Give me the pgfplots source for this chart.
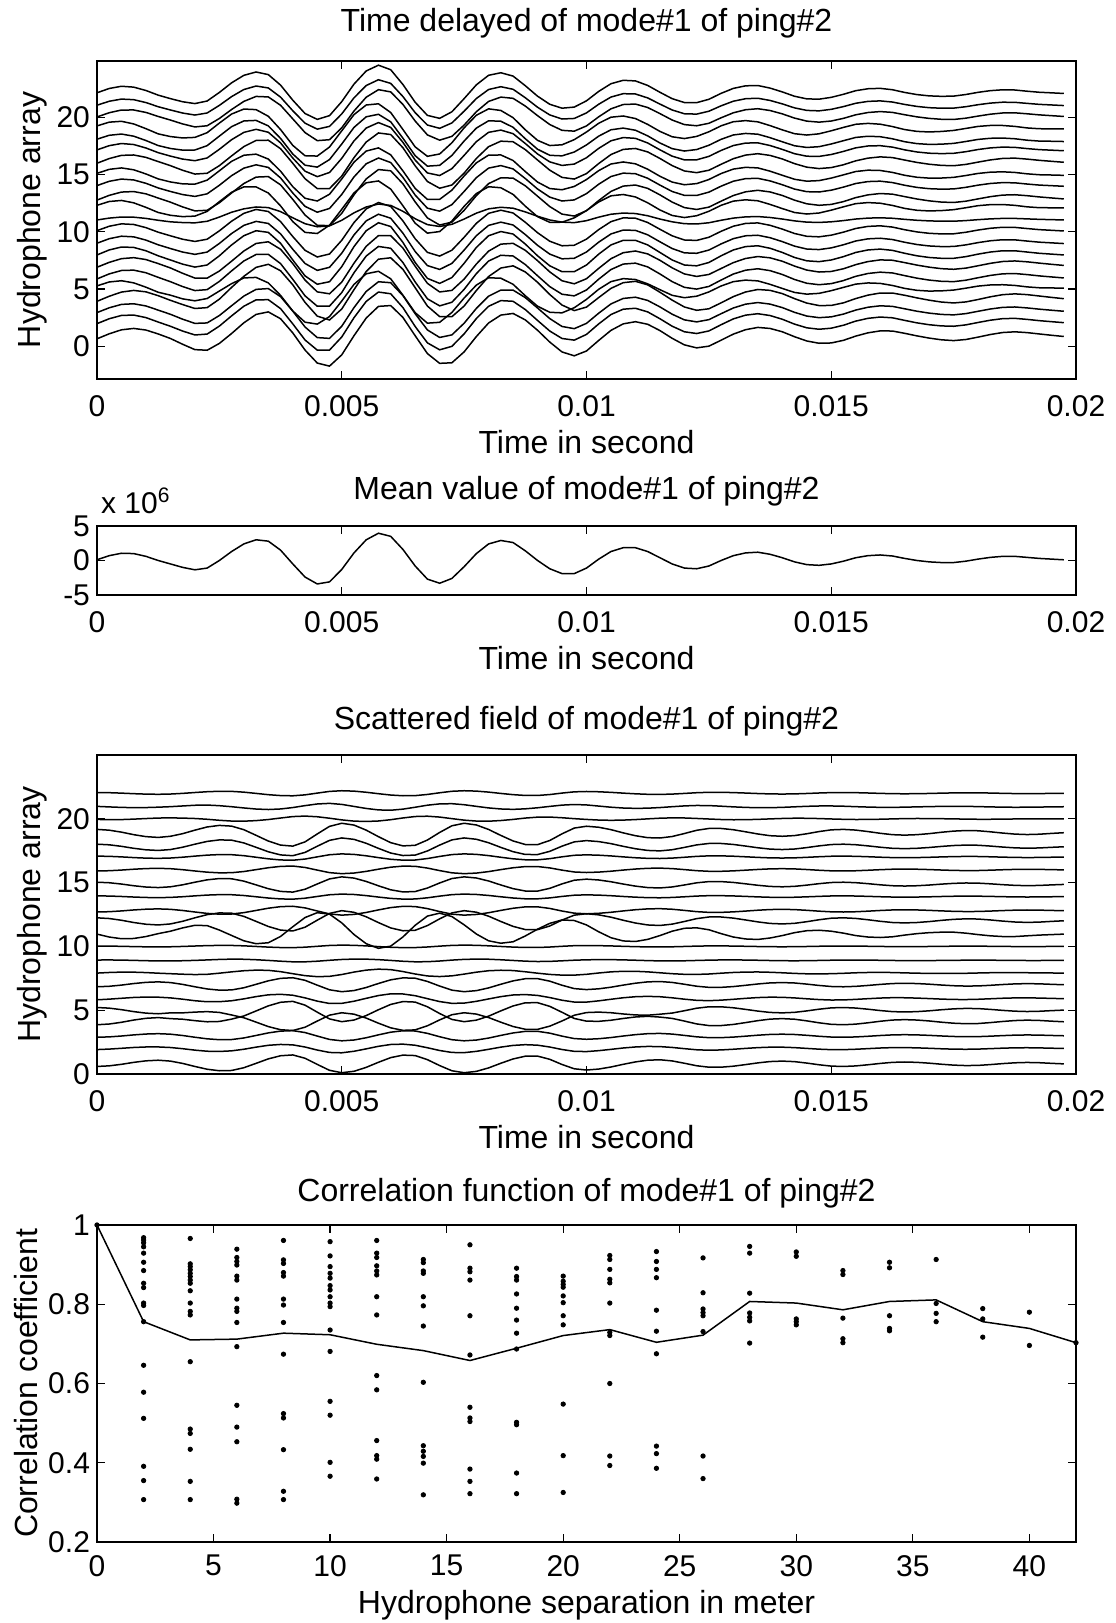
\documentclass[border=0pt]{standalone}
\usepackage{fontspec}
\setmainfont{Liberation Sans}
\usepackage{pgfplots}
\usepackage{pgfplotstable}
\pgfplotsset{compat=1.18}

% t in ms; m = mean of mode (x 10^6); g = residual (time-shift) shape; d = slow drift shape
\pgfplotstableread{
t m g d
0.00 0.10 0.30 0
0.25 0.70 0.23 0
0.50 1.05 0.06 0
0.75 1.00 -0.16 0
1.00 0.60 -0.33 0
1.25 0.00 -0.40 0
1.50 -0.50 -0.30 0
1.75 -1.00 -0.04 0.2
2.00 -1.35 0.30 0.4
2.25 -1.10 0.61 0.6
2.50 0.00 0.78 0.8
2.75 1.30 0.75 1
3.00 2.40 0.44 1
3.25 3.00 -0.05 1
3.50 2.80 -0.55 1
3.75 1.50 -0.90 1
4.00 -0.50 -0.99 1
4.25 -2.40 -0.62 1
4.50 -3.40 0.07 1
4.75 -3.10 0.73 1
5.00 -1.30 1.00 1
5.25 1.10 0.84 1
5.50 3.00 0.40 1
5.75 3.95 -0.17 1
6.00 3.50 -0.69 1
6.25 1.60 -0.97 1
6.50 -0.80 -0.92 1
6.75 -2.70 -0.46 1
7.00 -3.30 0.20 1
7.25 -2.60 0.78 1
7.50 -0.90 1.00 1
7.75 1.00 0.85 1
8.00 2.40 0.46 1
8.25 2.90 -0.06 1
8.50 2.60 -0.54 1
8.75 1.40 -0.85 1
9.00 0.00 -0.86 1
9.25 -1.20 -0.50 1
9.50 -1.90 0.08 1
9.75 -1.90 0.56 0.875
10.00 -1.10 0.70 0.75
10.25 0.20 0.59 0.625
10.50 1.30 0.36 0.5
10.75 1.85 0.06 0.375
11.00 1.85 -0.21 0.25
11.25 1.30 -0.40 0.125
11.50 0.40 -0.45 0
11.75 -0.50 -0.32 0
12.00 -1.10 -0.06 0
12.25 -1.20 0.22 0
12.50 -0.80 0.38 0
12.75 0.00 0.38 0
13.00 0.70 0.27 0
13.25 1.10 0.09 0
13.50 1.20 -0.10 0
13.75 0.90 -0.25 0
14.00 0.40 -0.30 0
14.25 -0.20 -0.24 0
14.50 -0.60 -0.08 0
14.75 -0.70 0.11 0
15.00 -0.50 0.26 0
15.25 -0.10 0.30 0
15.50 0.40 0.24 0
15.75 0.70 0.11 0
16.00 0.80 -0.04 0
16.25 0.65 -0.16 0
16.50 0.30 -0.20 0
16.75 0.00 -0.16 0
17.00 -0.20 -0.07 0
17.25 -0.30 0.05 0
17.50 -0.30 0.15 0
17.75 -0.10 0.20 0
18.00 0.20 0.18 0
18.25 0.45 0.09 0
18.50 0.60 -0.02 0
18.75 0.60 -0.11 0
19.00 0.45 -0.15 0
19.25 0.30 -0.12 0
19.50 0.20 -0.05 0
19.75 0.10 0.01 0
}\wave

% #1 hydrophone, #2 offset, #3 time-shift residual, #4 amplitude residual, #5 drift, #6 mean weight
\newcommand{\trace}[6]{%
  \addplot[black, line width=0.75pt] table[x=t, y expr={#1+(#2)+(#3)*\thisrow{g}+((#4)+(#6))*\thisrow{m}+(#5)*\thisrow{d}}] {\wave};}
\newcommand{\alltraces}[1]{%
  \trace{1}{-0.2}{-0.7}{0}{0}{#1}
  \trace{2}{0}{-0.3}{0.03}{0}{#1}
  \trace{3}{0}{-0.4}{0}{0}{#1}
  \trace{4}{0.1}{-0.8}{0}{0.8}{#1}
  \trace{5}{0}{0.7}{0}{-0.9}{#1}
  \trace{6}{-0.1}{-0.3}{0.05}{0}{#1}
  \trace{7}{0}{-0.55}{0}{0}{#1}
  \trace{8}{-0.1}{0}{0.08}{0}{#1}
  \trace{9}{-0.1}{0.1}{0.02}{0}{#1}
  \trace{10}{0}{0.1}{0}{0}{#1}
  \trace{11}{0}{0}{-0.38}{0.35}{#1}
  \trace{12}{0}{0.8}{0}{0}{#1}
  \trace{13}{-0.2}{-0.35}{0}{0}{#1}
  \trace{14}{-0.1}{0.2}{0}{0}{#1}
  \trace{15}{-0.15}{0.6}{0}{0}{#1}
  \trace{16}{0}{-0.3}{0}{0}{#1}
  \trace{17}{0}{0.25}{0}{0}{#1}
  \trace{18}{-0.2}{0.7}{0}{0}{#1}
  \trace{19}{-0.1}{0.9}{0}{-0.15}{#1}
  \trace{20}{0}{-0.15}{-0.05}{0}{#1}
  \trace{21}{-0.05}{0.1}{-0.06}{0}{#1}
  \trace{22}{0}{0.2}{0}{0}{#1}
}

\pgfplotsset{
  panel/.style={
    scale only axis, width=489.5pt,
    axis line style={line width=0.6pt},
    tick align=inside, major tick length=4pt,
    tick style={line width=0.6pt, black},
    tick label style={font=\fontsize{15}{18}\selectfont},
    label style={font=\fontsize{16}{19}\selectfont},
    title style={font=\fontsize{16}{19}\selectfont, at={(0.5,1)}, anchor=center},
    xticklabel style={yshift=-4.5pt},
    xlabel style={at={(axis description cs:0.5,0)}, anchor=center, yshift=-31.5pt},
  },
  timeaxis/.style={
    xmin=0, xmax=20,
    xtick={0,5,10,15,20},
    xticklabels={0,0.005,0.01,0.015,0.02},
    xlabel={Time in second},
  },
}

\begin{document}
\begin{tikzpicture}
\useasboundingbox (0,0) rectangle (557.5pt,811.5pt);

% Panel 1
\begin{axis}[panel, timeaxis, at={(48.5pt,622pt)}, anchor=south west, height=159pt,
  ymin=-2.85, ymax=24.9,
  ytick={0,5,10,15,20}, yticklabels={0,5,10,15,20},
  ylabel={Hydrophone array},
  ylabel style={at={(axis description cs:-0.0664,0.5)}, anchor=center},
  title={Time delayed of mode\#1 of ping\#2},
  title style={yshift=13pt}]
\alltraces{0.65}
\end{axis}

% Panel 2
\begin{axis}[panel, timeaxis, at={(48.5pt,514pt)}, anchor=south west, height=34.5pt,
  ymin=-5, ymax=5,
  ytick={-5,0,5}, yticklabels={-5,0,5},
  title={Mean value of mode\#1 of ping\#2},
  title style={yshift=11.5pt}]
\addplot[black, line width=0.75pt] table[x=t, y=m] {\wave};
\end{axis}
\node[anchor=west, font=\fontsize{15}{18}\selectfont] at (47pt,561pt) {x 10\textsuperscript{6}};

% Panel 3
\begin{axis}[panel, timeaxis, at={(48.5pt,274.5pt)}, anchor=south west, height=159.5pt,
  ymin=0, ymax=25,
  ytick={0,5,10,15,20}, yticklabels={0,5,10,15,20},
  ylabel={Hydrophone array},
  ylabel style={at={(axis description cs:-0.0664,0.5)}, anchor=center},
  title={Scattered field of mode\#1 of ping\#2},
  title style={yshift=11pt}]
\alltraces{0}
\end{axis}

% Panel 4
\begin{axis}[panel, at={(48.5pt,40.5pt)}, anchor=south west, height=158.5pt,
  xmin=0, xmax=42, ymin=0.2, ymax=1, clip=false,
  xtick={0,5,10,15,20,25,30,35,40}, xticklabels={0,5,10,15,20,25,30,35,40},
  ytick={0.2,0.4,0.6,0.8,1}, yticklabels={0.2,0.4,0.6,0.8,1},
  xticklabel style={yshift=1.5pt},
  xlabel={Hydrophone separation in meter},
  ylabel={Correlation coefficient},
  ylabel style={at={(axis description cs:-0.0725,0.5)}, anchor=center},
  title={Correlation function of mode\#1 of ping\#2},
  title style={yshift=10pt}]
\addplot[only marks, mark=*, mark size=1.1pt, black] coordinates {
(0,1.0)
(2,0.968) (2,0.962) (2,0.955) (2,0.945) (2,0.929) (2,0.906) (2,0.885) (2,0.853) (2,0.842) (2,0.803) (2,0.797) (2,0.756) (2,0.646) (2,0.578) (2,0.512) (2,0.391) (2,0.355) (2,0.307)
(4,0.966) (4,0.902) (4,0.895) (4,0.887) (4,0.878) (4,0.870) (4,0.861) (4,0.853) (4,0.834) (4,0.803) (4,0.782) (4,0.773) (4,0.655) (4,0.485) (4,0.474) (4,0.434) (4,0.353) (4,0.307)
(6,0.939) (6,0.918) (6,0.908) (6,0.899) (6,0.871) (6,0.861) (6,0.813) (6,0.790) (6,0.782) (6,0.754) (6,0.693) (6,0.545) (6,0.490) (6,0.453) (6,0.308) (6,0.298)
(8,0.961) (8,0.912) (8,0.903) (8,0.880) (8,0.871) (8,0.813) (8,0.798) (8,0.754) (8,0.674) (8,0.524) (8,0.513) (8,0.433) (8,0.328) (8,0.307)
(10,0.958) (10,0.922) (10,0.895) (10,0.878) (10,0.866) (10,0.847) (10,0.836) (10,0.819) (10,0.803) (10,0.794) (10,0.735) (10,0.681) (10,0.555) (10,0.520) (10,0.401) (10,0.366)
(12,0.961) (12,0.929) (12,0.918) (12,0.897) (12,0.884) (12,0.874) (12,0.819) (12,0.773) (12,0.620) (12,0.584) (12,0.456) (12,0.418) (12,0.409) (12,0.359)
(14,0.913) (14,0.905) (14,0.884) (14,0.878) (14,0.819) (14,0.796) (14,0.745) (14,0.603) (14,0.443) (14,0.429) (14,0.416) (14,0.399) (14,0.319)
(16,0.950) (16,0.891) (16,0.882) (16,0.861) (16,0.771) (16,0.672) (16,0.540) (16,0.513) (16,0.504) (16,0.384) (16,0.353) (16,0.322)
(18,0.891) (18,0.870) (18,0.861) (18,0.826) (18,0.790) (18,0.760) (18,0.727) (18,0.687) (18,0.502) (18,0.496) (18,0.374) (18,0.322)
(20,0.871) (20,0.858) (20,0.850) (20,0.843) (20,0.821) (20,0.804) (20,0.771) (20,0.748) (20,0.548) (20,0.418) (20,0.325)
(22,0.923) (22,0.913) (22,0.888) (22,0.863) (22,0.854) (22,0.803) (22,0.729) (22,0.721) (22,0.600) (22,0.417) (22,0.393)
(24,0.933) (24,0.908) (24,0.888) (24,0.867) (24,0.785) (24,0.732) (24,0.675) (24,0.442) (24,0.423) (24,0.386)
(26,0.917) (26,0.829) (26,0.788) (26,0.779) (26,0.771) (26,0.731) (26,0.417) (26,0.360)
(28,0.946) (28,0.929) (28,0.828) (28,0.778) (28,0.767) (28,0.758) (28,0.702)
(30,0.932) (30,0.921) (30,0.763) (30,0.756) (30,0.748)
(32,0.885) (32,0.875) (32,0.765) (32,0.713) (32,0.703)
(34,0.906) (34,0.892) (34,0.771) (34,0.739) (34,0.733)
(36,0.913) (36,0.802) (36,0.777) (36,0.756)
(38,0.789) (38,0.763) (38,0.717)
(40,0.780) (40,0.696)
(42,0.703)
};
\addplot[black, line width=0.75pt] coordinates {
(0,1.0) (2,0.756) (4,0.710) (6,0.712) (8,0.727) (10,0.723) (12,0.699) (14,0.683) (16,0.658) (18,0.689) (20,0.721) (22,0.736) (24,0.704) (26,0.722) (28,0.807) (30,0.803) (32,0.786) (34,0.807) (36,0.811) (38,0.756) (40,0.739) (42,0.703)
};
\end{axis}
\end{tikzpicture}
\end{document}
